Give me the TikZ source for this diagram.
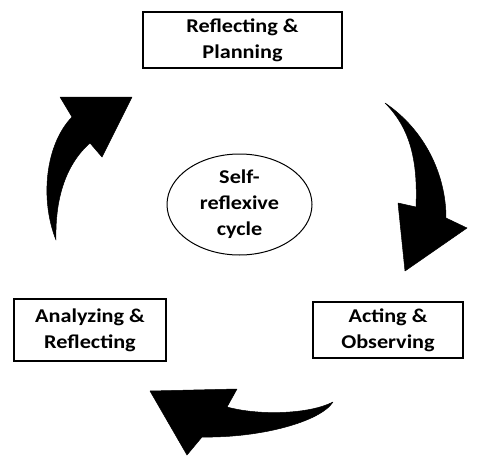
\documentclass[tikz,border=0pt]{standalone}
\usepackage{fontspec}
\setmainfont{Carlito}[FakeStretch=1.14]
\usepackage{tikz}
\usetikzlibrary{positioning,shapes.geometric}

\begin{document}
\begin{tikzpicture}[
  x=1pt, y=-1pt,
  font=\fontsize{19.5}{26}\selectfont\bfseries,
  stage/.style={draw, line width=1.4pt, align=center, inner sep=0pt},
  centre/.style={draw, ellipse, line width=1pt, align=center, inner sep=0pt,
                 minimum width=145pt, minimum height=101pt},
  bigarrow/.style={fill=black, draw=black, line width=0.5pt, line join=round},
]
\useasboundingbox (0,0) rectangle (477,461);

\node[stage, minimum width=199pt, minimum height=56pt] (plan) at (242.5,40) {Reflecting \&\\Planning};
\node[stage, minimum width=150pt, minimum height=56pt] (act)  at (388,330)  {Acting \&\\Observing};
\node[stage, minimum width=152pt, minimum height=62pt] (anal) at (90,330) {Analyzing \&\\Reflecting};
\node[centre] (cycle) at (239.5,204.5) {Self-\\reflexive\\cycle};

% plan -> act
\fill[bigarrow] (385,103) .. controls (425,130) and (446,175) .. (446,218)
  -- (467,228) -- (405,271) -- (398,203) -- (416,207)
  .. controls (418,160) and (410,128) .. (385,103) -- cycle;

% act -> anal
\fill[bigarrow] (333,402) .. controls (310,414) and (260,416) .. (227,407)
  -- (237,389) -- (150,391) -- (187,455) -- (202,437)
  .. controls (260,438) and (320,422) .. (333,402) -- cycle;

% anal -> plan
\fill[bigarrow] (56,240) .. controls (40,200) and (45,145) .. (72,117)
  -- (60,97) -- (132,97) -- (102,157) -- (90,143)
  .. controls (65,165) and (55,200) .. (56,240) -- cycle;
\end{tikzpicture}
\end{document}
